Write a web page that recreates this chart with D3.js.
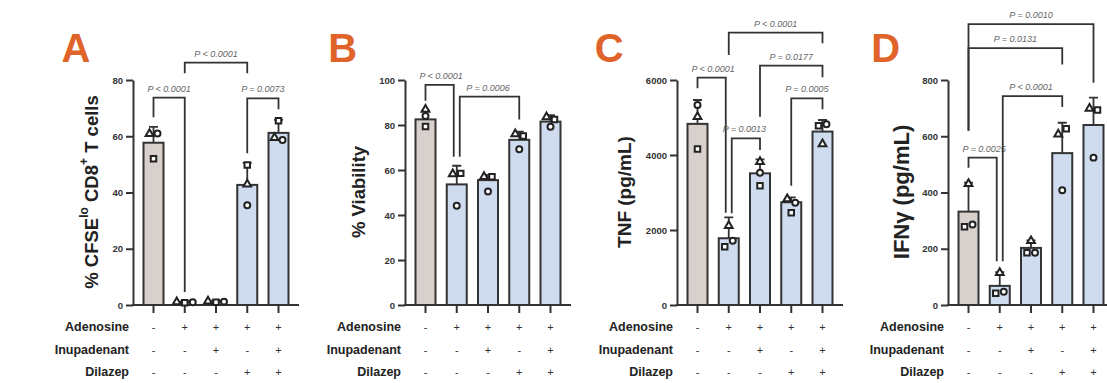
<!DOCTYPE html>
<html>
<head>
<meta charset="utf-8">
<script src="https://cdn.jsdelivr.net/npm/d3@7"></script>
<style>
  body { margin: 0; background: #fff; }
  svg { display: block; }
  text { font-family: "Liberation Sans", Arial, sans-serif; }
</style>
</head>
<body>
<div id="chart"></div>
<script>
/* DATA */
const conditions = ["Ctrl", "Ado", "Ado+Inu", "Ado+Dil", "Ado+Inu+Dil"];
const rowNames = ["Adenosine", "Inupadenant", "Dilazep"];
const adenosineRow = ["-", "+", "+", "+", "+"];
const inupadenantRow = ["-", "-", "+", "-", "+"];
const dilazepRow = ["-", "-", "-", "+", "+"];
const panelLetters = ["A", "B", "C", "D"];

// A: % CFSElo CD8+ T cells
const cfseTicks = [0, 20, 40, 60, 80];
const cfseMean = [57.7, 1.0, 1.2, 42.7, 61.2];
const cfseErrTop = [63.3, 1.4, 1.6, 50.5, 65.8];
const cfseTri = [60.9, 1.1, 1.3, 42.9, 59.5];
const cfseSq = [52.0, 0.8, 1.0, 49.8, 65.5];
const cfseCirc = [61.0, 1.0, 1.2, 35.5, 58.7];
// [from, to, bracket top, left leg end, right leg end, label]
const cfseBrackets = [
  [0, 1, 73.7, 66.8, 4.6, "P < 0.0001"],
  [1, 3, 86.2, 82.4, 82.4, "P < 0.0001"],
  [3, 4, 73.5, 54.0, 69.6, "P = 0.0073"]
];

// B: % Viability
const viaTicks = [0, 20, 40, 60, 80, 100];
const viaMean = [82.5, 53.6, 55.5, 73.4, 81.5];
const viaErrTop = [86.4, 61.9, 57.8, 77.0, 84.4];
const viaTri = [86.9, 58.2, 57.0, 76.0, 83.6];
const viaSq = [79.3, 58.5, 57.0, 75.1, 82.4];
const viaCirc = [84.0, 44.1, 50.4, 69.2, 79.2];
const viaBrackets = [
  [0, 1, 97.8, 90.8, 65.9, "P < 0.0001"],
  [1, 3, 92.6, 65.9, 82.5, "P = 0.0006"]
];

// C: TNF (pg/mL)
const tnfTicks = [0, 2000, 4000, 6000];
const tnfMean = [4830, 1780, 3511, 2740, 4625];
const tnfErrTop = [5467, 2338, 3885, 2871, 4933];
const tnfTri = [5022, 2115, 3822, 2827, 4293];
const tnfSq = [4160, 1556, 3182, 2462, 4782];
const tnfCirc = [5333, 1716, 3529, 2729, 4818];
const tnfBrackets = [
  [0, 1, 6062, 5778, 2462, "P < 0.0001"],
  [1, 2, 4445, 2445, 4133, "P = 0.0013"],
  [1, 4, 7262, 6667, 6978, "P < 0.0001"],
  [2, 4, 6382, 5022, 6071, "P = 0.0177"],
  [3, 4, 5511, 3182, 5218, "P = 0.0005"]
];

// D: IFNγ (pg/mL)
const ifnTicks = [0, 200, 400, 600, 800];
const ifnMean = [332, 68, 203, 540, 640];
const ifnErrTop = [435, 117, 230, 648, 737];
const ifnTri = [431, 115, 228, 607, 699];
const ifnSq = [278, 42, 186, 627, 693];
const ifnCirc = [286, 47, 186, 408, 524];
const ifnBrackets = [
  [0, 1, 524, 488, 156, "P = 0.0025"],
  [1, 3, 743, 156, 704, "P < 0.0001"],
  [0, 3, 913, 620, 855, "P = 0.0131"],
  [0, 4, 999, 620, 790, "P = 0.0010"]
];

/* LAYOUT */
const width = 1107, height = 383;
const plotTop = 80, plotBottom = 305;
const axisX = [133, 405, 677, 948];
const titleSizes = [18.5, 18.5, 19, 22];
const rowY = [327, 350, 372];
const barW = 20;
const ink = "#333";
const greyFill = "#d8d0cc", blueFill = "#cfdcef";
const orange = "#e0632a";

const panels = [
  { ticks: cfseTicks, mean: cfseMean, err: cfseErrTop, reps: [cfseTri, cfseSq, cfseCirc], brackets: cfseBrackets },
  { ticks: viaTicks, mean: viaMean, err: viaErrTop, reps: [viaTri, viaSq, viaCirc], brackets: viaBrackets },
  { ticks: tnfTicks, mean: tnfMean, err: tnfErrTop, reps: [tnfTri, tnfSq, tnfCirc], brackets: tnfBrackets },
  { ticks: ifnTicks, mean: ifnMean, err: ifnErrTop, reps: [ifnTri, ifnSq, ifnCirc], brackets: ifnBrackets }
];
const shapes = [d3.symbolTriangle, d3.symbolSquare, d3.symbolCircle];
const shapeSize = [26, 30, 28];

const svg = d3.select("#chart").append("svg")
  .attr("width", width)
  .attr("height", height);

panels.forEach((p, k) => {
  const x0 = axisX[k];
  const g = svg.append("g");

  const x = d3.scalePoint().domain(d3.range(conditions.length)).range([x0 + 20.5, x0 + 145.5]);
  const y = d3.scaleLinear().domain([0, d3.max(p.ticks)]).range([plotBottom, plotTop]);

  // y axis
  const ya = g.append("g")
    .attr("transform", `translate(${x0},0)`)
    .call(d3.axisLeft(y).tickValues(p.ticks).tickFormat(d3.format("d"))
      .tickSize(7).tickSizeOuter(0).tickPadding(3));
  ya.select(".domain").attr("stroke", ink).attr("stroke-width", 2);
  ya.selectAll(".tick line").attr("stroke", ink).attr("stroke-width", 2);
  ya.selectAll(".tick text")
    .attr("fill", ink)
    .attr("font-family", "Liberation Sans, Arial, sans-serif")
    .attr("font-size", 9.5)
    .attr("font-weight", "bold");

  // x axis baseline + ticks
  g.append("line")
    .attr("x1", x0 - 1).attr("x2", x0 + 166)
    .attr("y1", plotBottom).attr("y2", plotBottom)
    .attr("stroke", ink).attr("stroke-width", 2);
  g.selectAll(".xtick")
    .data(d3.range(conditions.length))
    .join("line")
    .attr("x1", d => x(d)).attr("x2", d => x(d))
    .attr("y1", plotBottom).attr("y2", plotBottom + 8)
    .attr("stroke", ink).attr("stroke-width", 2);

  // bars
  g.selectAll(".bar")
    .data(p.mean)
    .join("rect")
    .attr("x", (d, i) => x(i) - barW / 2)
    .attr("y", d => y(d))
    .attr("width", barW)
    .attr("height", d => plotBottom - y(d))
    .attr("fill", (d, i) => i === 0 ? greyFill : blueFill)
    .attr("stroke", ink)
    .attr("stroke-width", 2);

  // error bars (upper only)
  p.err.forEach((e, i) => {
    g.append("path")
      .attr("d", `M${x(i)},${y(p.mean[i])}V${y(e)}M${x(i) - 4.5},${y(e)}H${x(i) + 4.5}`)
      .attr("fill", "none")
      .attr("stroke", ink)
      .attr("stroke-width", 1.8);
  });

  // replicate points, spread sideways when they overlap
  d3.range(conditions.length).forEach(i => {
    const pts = p.reps.map((arr, r) => ({ r, v: arr[i], py: y(arr[i]) }));
    const sorted = pts.slice().sort((a, b) => a.py - b.py);
    const clusters = [];
    sorted.forEach(pt => {
      const last = clusters[clusters.length - 1];
      if (last && pt.py - last[last.length - 1].py < 6.2) last.push(pt);
      else clusters.push([pt]);
    });
    clusters.forEach(c => {
      c.sort((a, b) => a.r - b.r);
      c.forEach((pt, j) => { pt.dx = (j - (c.length - 1) / 2) * 8; });
    });
    pts.forEach(pt => {
      g.append("path")
        .attr("d", d3.symbol().type(shapes[pt.r]).size(shapeSize[pt.r])())
        .attr("transform", `translate(${x(i) + pt.dx},${pt.py})`)
        .attr("fill", "#fff")
        .attr("stroke", "#222")
        .attr("stroke-width", 2);
    });
  });

  // significance brackets
  p.brackets.forEach((b, bi) => {
    const [i, j, top, lEnd, rEnd, label] = b;
    const overlaps = (bar, side, lo, hi) => p.brackets.some((o, oi) => {
      if (oi === bi) return false;
      if (side === "left" && o[1] === bar) return Math.min(hi, o[2]) > Math.max(lo, o[4]);
      if (side === "right" && o[0] === bar) return Math.min(hi, o[2]) > Math.max(lo, o[3]);
      return false;
    });
    const xl = x(i) + (overlaps(i, "left", lEnd, top) ? 3 : 0);
    const xr = x(j) - (overlaps(j, "right", rEnd, top) ? 3 : 0);
    g.append("path")
      .attr("d", `M${xl},${y(lEnd)}V${y(top)}H${xr}V${y(rEnd)}`)
      .attr("fill", "none")
      .attr("stroke", ink)
      .attr("stroke-width", 1.8);
    g.append("text")
      .attr("x", (x(i) + x(j)) / 2)
      .attr("y", y(top) - 6)
      .attr("text-anchor", "middle")
      .attr("font-size", 9)
      .attr("font-style", "italic")
      .attr("fill", "#666")
      .text(label);
  });

  // axis title
  const tickBox = ya.node().getBBox();
  const titleX = x0 + tickBox.x - 21;
  const title = g.append("text")
    .attr("transform", `translate(${titleX},192) rotate(-90)`)
    .attr("text-anchor", "middle")
    .attr("dominant-baseline", "central")
    .attr("font-size", titleSizes[k])
    .attr("font-weight", "bold")
    .attr("fill", "#222");
  if (k === 0) {
    title.append("tspan").text("% CFSE");
    title.append("tspan").attr("baseline-shift", "super").attr("font-size", "65%").text("lo");
    title.append("tspan").text(" CD8");
    title.append("tspan").attr("baseline-shift", "super").attr("font-size", "65%").text("+");
    title.append("tspan").text(" T cells");
  } else {
    title.text(["", "% Viability", "TNF (pg/mL)", "IFNγ (pg/mL)"][k]);
  }

  // panel letter
  g.append("text")
    .attr("x", titleX - 30)
    .attr("y", 62)
    .attr("font-size", 40)
    .attr("font-weight", "bold")
    .attr("fill", orange)
    .text(panelLetters[k]);

  // treatment table
  [adenosineRow, inupadenantRow, dilazepRow].forEach((row, r) => {
    g.append("text")
      .attr("x", x0 - 4)
      .attr("y", rowY[r])
      .attr("dy", "0.35em")
      .attr("text-anchor", "end")
      .attr("font-size", 12.5)
      .attr("font-weight", "bold")
      .attr("fill", "#222")
      .text(rowNames[r]);
    g.selectAll(null)
      .data(row)
      .join("text")
      .attr("x", (d, i) => x(i))
      .attr("y", rowY[r])
      .attr("dy", "0.35em")
      .attr("text-anchor", "middle")
      .attr("font-size", 11)
      .attr("fill", ink)
      .text(d => d);
  });
});
</script>
</body>
</html>
